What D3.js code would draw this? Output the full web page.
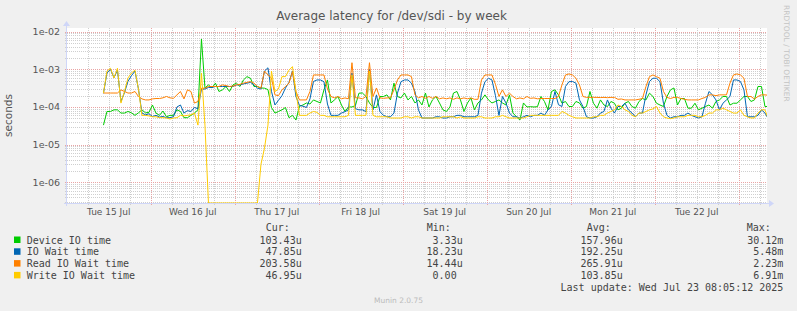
<!DOCTYPE html>
<html>
<head>
<meta charset="utf-8">
<title>Average latency for /dev/sdi - by week</title>
<script src="https://d3js.org/d3.v7.min.js"></script>
<style>
  body { margin: 0; background: #f0f0f0; }
  svg text { font-family: "DejaVu Sans", sans-serif; }
  .mono { font-family: "DejaVu Sans Mono", monospace; font-size: 10px; fill: #444; white-space: pre; }
</style>
</head>
<body>
<svg id="chart" width="797" height="311"></svg>
<script>
// latency in microseconds, one reading per hour starting Tue 15 Jul 10:30 (UTC)
const device = [33,76, 76,84, 84,69, 69,76, 70,60, 70,84, 70,72, 113,69, 60,78, 55,60,
  60,84, 76,52, 52,60, 69,84, 6400,320, 386,320, 430,258, 285,350, 258,386, 430,350,
  523,640, 580,350, 350,320, 316,290, 97,69, 76,84, 97,52, 60,45, 105,113, 128,120,
  154,140, 128,285, 523,128, 154,190, 113,76, 100,100, 110,233, 235,190, 128,97, 97,190,
  190,210, 154,430, 190,174, 235,154, 190,128, 154,113, 235,100, 154,190, 128,84, 76,100,
  235,258, 154,76, 128,174, 84,128, 154,210, 154,128, 140,154, 128,113, 210,69, 55,45,
  128,100, 102,100, 102,190, 140,84, 258,285, 210,126, 140,103, 103,140, 128,93, 103,258,
  126,93, 154,113, 103,140, 126,84, 93,126, 140,103, 93,140, 168,154, 233,190, 126,113,
  103,190, 285,320, 113,168, 168,93, 93,126, 84,93, 103,113, 93,140, 154,190, 190,113,
  126,126, 154,190, 190,140, 154,350, 350,103, 103];
const ioWait = [230,800, 1000,600, 950,140, 240,480, 680,900, 300,69, 62,66, 56,60, 54,56, 52,52,
  55,100, 113,69, 80,76, 97,90, 300,300, 330,330, 350,350, 350,350, 350,350, 386,386,
  410,430, 450,390, 316,300, 900,1100, 260,113, 150,200, 320,450, 900,190, 110,105, 97,164,
  475,523, 523,470, 120,60, 60,60, 69,75, 84,800, 90,84, 84,75, 1000,84, 210,75,
  60,55, 55,69, 233,470, 523,523, 430,258, 84,51, 51,51, 51,55, 55,51, 51,55,
  55,60, 60,55, 55,55, 55,60, 233,470, 580,523, 200,60, 190,128, 69,55, 55,51,
  55,60, 55,60, 60,69, 60,84, 103,258, 115,103, 350,470, 475,430, 154,103, 55,51,
  51,55, 69,76, 154,93, 69,103, 103,126, 84,69, 55,69, 69,210, 475,580, 580,470,
  126,60, 51,55, 55,60, 60,69, 60,55, 51,55, 126,258, 210,154, 84,126, 154,190,
  523,523, 475,285, 55,55, 55,60, 84,69, 48];
const readWait = [235,235, 235,235, 235,285, 258,235, 235,258, 190,164, 154,154, 164,168, 168,175, 190,175,
  170,210, 258,164, 285,258, 127,140, 316,316, 350,350, 350,350, 386,370, 350,360, 386,400,
  430,450, 475,430, 350,316, 900,710, 590,210, 200,285, 350,430, 870,258, 154,154, 154,258,
  710,710, 710,710, 300,190, 175,190, 165,174, 165,1500, 175,174, 165,190, 1500,190, 320,174,
  170,174, 175,285, 523,710, 710,710, 640,210, 175,190, 170,190, 170,190, 165,174, 165,174,
  160,174, 165,174, 165,174, 160,160, 523,710, 710,710, 400,190, 285,190, 233,190, 165,174,
  165,190, 170,174, 165,168, 168,168, 168,168, 190,386, 710,755, 710,580, 386,190, 180,180,
  180,180, 178,180, 177,180, 180,160, 163,154, 154,154, 154,160, 168,350, 640,710, 640,580,
  258,180, 168,180, 180,168, 160,154, 154,154, 154,168, 180,210, 210,200, 210,210, 210,430,
  710,755, 710,580, 190,190, 163,190, 210,210, 204];
const writeWait = [235,900, 1070,590, 1070,127, 258,590, 800,950, 300,60, 60,58, 55,55, 52,52, 51,48,
  51,52, 60,58, 60,62, 69,33, 800,33, 0,0, 0,0, 0,0, 0,0, 0,0,
  0,0, 0,0, 0,3, 8,33, 900,258, 300,640, 640,950, 1180,258, 60,60, 60,69,
  76,72, 60,60, 55,55, 55,55, 55,55, 60,700, 60,60, 60,60, 900,60, 55,55,
  55,55, 51,51, 51,51, 55,55, 51,55, 55,51, 51,51, 51,51, 51,55, 55,55,
  55,51, 55,51, 51,51, 51,55, 55,51, 51,51, 55,55, 60,55, 51,51, 51,51,
  51,55, 60,60, 60,60, 60,60, 60,60, 60,76, 69,60, 55,51, 51,51, 51,51,
  55,55, 60,60, 69,76, 84,113, 103,84, 76,60, 55,69, 69,76, 84,89, 103,69,
  55,51, 49,51, 55,55, 55,60, 60,60, 55,55, 60,69, 69,84, 84,93, 84,76,
  69,69, 84,60, 55,51, 51,69, 84,84, 47];

const seriesNames = ["Device IO time", "IO Wait time", "Read IO Wait time", "Write IO Wait time"];
const seriesColors = ["#00cc00", "#0066b3", "#ff8000", "#ffcc00"];
const curVals = ["103.43u", "47.85u", "203.58u", "46.95u"];
const minVals = ["3.33u", "18.23u", "14.44u", "0.00 "];
const avgVals = ["157.96u", "192.25u", "265.91u", "103.85u"];
const maxVals = ["30.12m", "5.48m", "2.23m", "6.91m"];
const dayLabels = ["Tue 15 Jul", "Wed 16 Jul", "Thu 17 Jul", "Fri 18 Jul", "Sat 19 Jul", "Sun 20 Jul", "Mon 21 Jul", "Tue 22 Jul"];
const yTicks = [1e-2, 1e-3, 1e-4, 1e-5, 1e-6];
const yTickLabels = ["1e-02", "1e-03", "1e-04", "1e-05", "1e-06"];

const svg = d3.select("#chart");
const pLeft = 67, pRight = 767, pTop = 28, pBottom = 203;
const yMin = 2.82e-7;

const x = d3.scaleUtc()
  .domain([Date.UTC(2025, 6, 15, 0, 5), Date.UTC(2025, 6, 23, 8, 5)])
  .range([pLeft, pRight]);
const y = d3.scaleLog().domain([yMin, 1.253e-2]).range([pBottom, pTop]).clamp(true);

const t0 = Date.UTC(2025, 6, 15, 10, 30);
const step = 3600 * 1000;

svg.append("rect").attr("x", pLeft).attr("y", pTop)
  .attr("width", pRight - pLeft).attr("height", pBottom - pTop).attr("fill", "#fff");

const minorCol = "#cfcfcf", majorCol = "#e9a4a4";

// horizontal grid
const grid = svg.append("g");
grid.selectAll("line.h").data(y.ticks())
  .join("line")
  .attr("x1", pLeft - 2).attr("x2", pRight)
  .attr("y1", d => Math.round(y(d)) + 0.5).attr("y2", d => Math.round(y(d)) + 0.5)
  .attr("stroke", d => yTicks.some(t => Math.abs(t - d) / t < 1e-6) ? majorCol : minorCol)
  .attr("stroke-dasharray", "1,1");

// vertical grid
grid.selectAll("line.v").data(x.ticks(d3.utcHour.every(6)))
  .join("line")
  .attr("x1", d => Math.round(x(d)) + 0.5).attr("x2", d => Math.round(x(d)) + 0.5)
  .attr("y1", pTop).attr("y2", pBottom + 3)
  .attr("stroke", d => d.getUTCHours() === 0 ? majorCol : minorCol)
  .attr("stroke-dasharray", "1,1");

// axes
const axisCol = "#cfd6f8";
svg.append("line").attr("x1", pLeft - 3).attr("x2", pRight + 2)
  .attr("y1", pBottom + 0.5).attr("y2", pBottom + 0.5).attr("stroke", axisCol);
svg.append("path").attr("d", `M${pRight + 2},${pBottom - 3}L${pRight + 7},${pBottom + 0.5}L${pRight + 2},${pBottom + 4}Z`)
  .attr("fill", axisCol);
svg.append("line").attr("x1", pLeft - 0.5).attr("x2", pLeft - 0.5)
  .attr("y1", pBottom + 3).attr("y2", pTop - 2).attr("stroke", axisCol);
svg.append("path").attr("d", `M${pLeft - 4},${pTop - 2}L${pLeft - 0.5},${pTop - 7}L${pLeft + 3},${pTop - 2}Z`)
  .attr("fill", axisCol);

// series
svg.append("clipPath").attr("id", "plot")
  .append("rect").attr("x", pLeft).attr("y", pTop - 1).attr("width", pRight - pLeft).attr("height", pBottom - pTop + 1);
const line = d3.line()
  .x((d, i) => x(new Date(t0 + i * step)))
  .y(d => y(Math.max(d * 1e-6, yMin)));
const series = [device, ioWait, readWait, writeWait];
svg.append("g").attr("clip-path", "url(#plot)")
  .selectAll("path").data(series)
  .join("path")
  .attr("d", line)
  .attr("fill", "none")
  .attr("stroke", (d, i) => seriesColors[i])
  .attr("stroke-width", 1);

// tick labels
svg.selectAll("text.ytick").data(yTicks)
  .join("text")
  .attr("x", 60).attr("y", d => y(d) + 3.5)
  .attr("text-anchor", "end")
  .attr("font-size", 9.5).attr("fill", "#555")
  .text((d, i) => yTickLabels[i]);

svg.selectAll("text.xtick").data(dayLabels)
  .join("text")
  .attr("x", (d, i) => x(Date.UTC(2025, 6, 15 + i, 12)))
  .attr("y", 215)
  .attr("text-anchor", "middle")
  .attr("font-size", 9).attr("fill", "#555")
  .text(d => d);

svg.append("text")
  .attr("transform", `translate(12,${(pTop + pBottom) / 2}) rotate(-90)`)
  .attr("text-anchor", "middle")
  .attr("font-size", 10.5).attr("fill", "#555")
  .text("seconds");

svg.append("text")
  .attr("x", 391.5).attr("y", 19.5)
  .attr("text-anchor", "middle")
  .attr("font-size", 12).attr("fill", "#555")
  .text("Average latency for /dev/sdi - by week");

svg.append("text")
  .attr("transform", "translate(784,5) rotate(90)")
  .attr("font-size", 7.5).attr("fill", "#c4c4c4")
  .text("RRDTOOL / TOBI OETIKER");

svg.append("text")
  .attr("x", 398.5).attr("y", 303)
  .attr("text-anchor", "middle")
  .attr("font-size", 7.5).attr("fill", "#bbb")
  .text("Munin 2.0.75");

// legend
const legend = svg.append("g");
const headY = 231, rowY = 243.5, rowH = 11.8;
[["Cur:", 265.7], ["Min:", 426.7], ["Avg:", 586.7], ["Max:", 746.7]].forEach(([t, px]) => {
  legend.append("text").attr("class", "mono").attr("x", px).attr("y", headY).text(t);
});
const cols = [[curVals, 301.7], [minVals, 462.7], [avgVals, 622.7], [maxVals, 783.3]];
seriesNames.forEach((name, i) => {
  const by = rowY + i * rowH;
  legend.append("rect").attr("x", 14).attr("y", by - 7).attr("width", 6.5).attr("height", 6.5)
    .attr("fill", seriesColors[i]);
  legend.append("text").attr("class", "mono").attr("x", 26.7).attr("y", by).text(name);
  cols.forEach(([vals, px]) => {
    legend.append("text").attr("class", "mono").attr("x", px).attr("y", by)
      .attr("text-anchor", "end").text(vals[i]);
  });
});
legend.append("text").attr("class", "mono").attr("x", 783.3).attr("y", rowY + 4 * rowH)
  .attr("text-anchor", "end").text("Last update: Wed Jul 23 08:05:12 2025");
</script>
</body>
</html>
